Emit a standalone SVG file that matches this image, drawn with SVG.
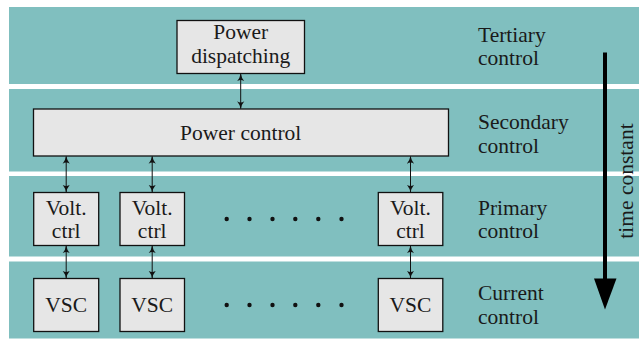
<svg xmlns="http://www.w3.org/2000/svg" width="639" height="339" viewBox="0 0 639 339">
<style>
.band{fill:#80bfbf}
.box{fill:#e6e6e6;stroke:#111;stroke-width:1.3}
text{font-family:"Liberation Serif",serif;font-size:21.5px;fill:#1a1a1a}
.c{text-anchor:middle}
.conn{stroke:#111;stroke-width:1;fill:none;marker-start:url(#ah);marker-end:url(#ah)}
.dot{fill:#111}
</style>
<defs>
<marker id="ah" viewBox="0 0 10 10" refX="9" refY="5" markerWidth="8" markerHeight="8" markerUnits="userSpaceOnUse" orient="auto-start-reverse">
<path d="M0,0.5 Q4,4 10,5 Q4,6 0,9.5 Q3,5 0,0.5 Z" fill="#111"/>
</marker>
</defs>
<g id="bands">
<rect class="band" x="9" y="7" width="630" height="77"/>
<rect class="band" x="9" y="89" width="630" height="82.5"/>
<rect class="band" x="9" y="176" width="630" height="80.5"/>
<rect class="band" x="9" y="261.5" width="630" height="77"/>
</g>
<g id="labels">
<text x="478" y="42">Tertiary</text>
<text x="478" y="65">control</text>
<text x="478" y="128.5">Secondary</text>
<text x="478" y="152.5">control</text>
<text x="478" y="214.5">Primary</text>
<text x="478" y="238">control</text>
<text x="478" y="300">Current</text>
<text x="478" y="323.5">control</text>
</g>
<g id="dispatch">
<rect class="box" x="177" y="20.5" width="127.5" height="53"/>
<text class="c" x="240.7" y="39">Power</text>
<text class="c" x="240.7" y="62.5">dispatching</text>
</g>
<g id="powerctrl">
<rect class="box" x="33.5" y="109" width="415" height="47"/>
<text class="c" x="240.7" y="139.5">Power control</text>
</g>
<g id="volt1"><rect class="box" x="33.7" y="192.5" width="65" height="53"/><text class="c" x="66.2" y="214.5">Volt.</text><text class="c" x="66.2" y="238">ctrl</text></g>
<g id="volt2"><rect class="box" x="120" y="192.5" width="64.5" height="53"/><text class="c" x="152.2" y="214.5">Volt.</text><text class="c" x="152.2" y="238">ctrl</text></g>
<g id="volt3"><rect class="box" x="378.3" y="192.5" width="64.5" height="53"/><text class="c" x="410.5" y="214.5">Volt.</text><text class="c" x="410.5" y="238">ctrl</text></g>
<g id="vsc1"><rect class="box" x="33.7" y="278.5" width="65" height="53"/><text class="c" x="66.2" y="312">VSC</text></g>
<g id="vsc2"><rect class="box" x="120" y="278.5" width="64.5" height="53"/><text class="c" x="152.2" y="312">VSC</text></g>
<g id="vsc3"><rect class="box" x="378.3" y="278.5" width="64.5" height="53"/><text class="c" x="410.5" y="312">VSC</text></g>
<g id="dots">
<circle class="dot" cx="226.7" cy="219" r="2.2"/><circle class="dot" cx="249.5" cy="219" r="2.2"/><circle class="dot" cx="272.5" cy="219" r="2.2"/><circle class="dot" cx="295.3" cy="219" r="2.2"/><circle class="dot" cx="318.3" cy="219" r="2.2"/><circle class="dot" cx="341.5" cy="219" r="2.2"/>
<circle class="dot" cx="226.7" cy="305" r="2.2"/><circle class="dot" cx="249.5" cy="305" r="2.2"/><circle class="dot" cx="272.5" cy="305" r="2.2"/><circle class="dot" cx="295.3" cy="305" r="2.2"/><circle class="dot" cx="318.3" cy="305" r="2.2"/><circle class="dot" cx="341.5" cy="305" r="2.2"/>
</g>
<g id="connectors">
<line class="conn" x1="240.7" y1="74" x2="240.7" y2="108.5"/>
<line class="conn" x1="66.2" y1="156.5" x2="66.2" y2="192"/>
<line class="conn" x1="152.2" y1="156.5" x2="152.2" y2="192"/>
<line class="conn" x1="410.5" y1="156.5" x2="410.5" y2="192"/>
<line class="conn" x1="66.2" y1="246" x2="66.2" y2="278"/>
<line class="conn" x1="152.2" y1="246" x2="152.2" y2="278"/>
<line class="conn" x1="410.5" y1="246" x2="410.5" y2="278"/>
</g>
<g id="timeaxis">
<line x1="605" y1="52.5" x2="605" y2="280" stroke="#000" stroke-width="4"/>
<path d="M594,278.5 L616.5,278.5 L605,309.5 Z" fill="#000"/>
<text class="c" transform="translate(632.5,181) rotate(-90)">time constant</text>
</g>
</svg>
